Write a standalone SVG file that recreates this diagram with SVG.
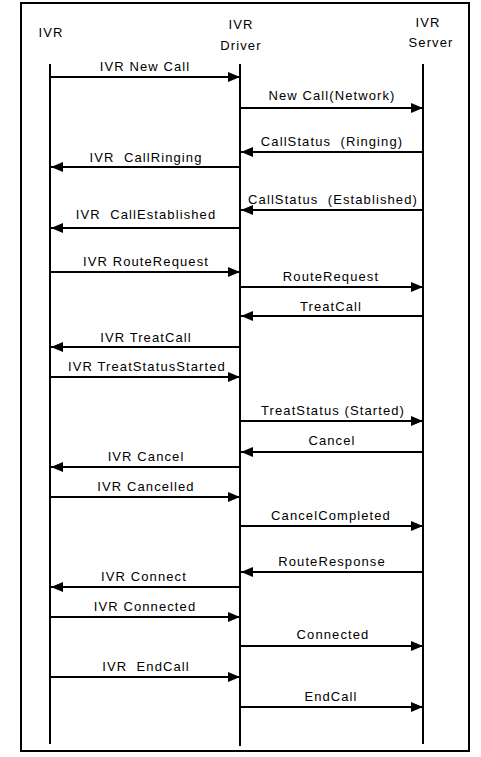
<svg xmlns="http://www.w3.org/2000/svg" width="481" height="757" viewBox="0 0 481 757">
<style>
text{font-family:"Liberation Sans",Arial,sans-serif;font-size:13px;letter-spacing:1.1px;fill:#000;text-anchor:middle}
.life{stroke:#000;stroke-width:2;fill:none}
.msg{stroke:#000;stroke-width:2;fill:none;marker-end:url(#ah)}
</style>
<defs>
<marker id="ah" markerUnits="userSpaceOnUse" markerWidth="13" markerHeight="11" refX="12" refY="5" orient="auto">
<path d="M0,0 L12,5 L0,10 z" fill="#000"/>
</marker>
</defs>
<rect x="0" y="0" width="481" height="757" fill="#fff"/>
<rect x="21" y="3" width="448" height="748" fill="none" stroke="#000" stroke-width="2"/>
<g id="ivr">
<text x="51" y="37">IVR</text>
<line class="life" x1="50" y1="64" x2="50" y2="744"/>
</g>
<g id="driver">
<text x="241" y="29">IVR</text>
<text x="241" y="50">Driver</text>
<line class="life" x1="240" y1="64" x2="240" y2="746"/>
</g>
<g id="server">
<text x="428" y="27">IVR</text>
<text x="431" y="47">Server</text>
<line class="life" x1="423" y1="64" x2="423" y2="744"/>
</g>
<g id="connectors">
<line class="msg" x1="50" y1="77" x2="240" y2="77"/><text x="145" y="71">IVR New Call</text>
<line class="msg" x1="240" y1="108" x2="423" y2="108"/><text x="332" y="100">New Call(Network)</text>
<line class="msg" x1="423" y1="152" x2="241" y2="152"/><text x="332" y="146" xml:space="preserve">CallStatus  (Ringing)</text>
<line class="msg" x1="240" y1="167" x2="51" y2="167"/><text x="146" y="162" xml:space="preserve">IVR  CallRinging</text>
<line class="msg" x1="423" y1="210" x2="241" y2="210"/><text x="333" y="204" xml:space="preserve">CallStatus  (Established)</text>
<line class="msg" x1="240" y1="228" x2="51" y2="228"/><text x="146" y="219" xml:space="preserve">IVR  CallEstablished</text>
<line class="msg" x1="50" y1="272" x2="240" y2="272"/><text x="146" y="266">IVR RouteRequest</text>
<line class="msg" x1="240" y1="287" x2="423" y2="287"/><text x="331" y="281">RouteRequest</text>
<line class="msg" x1="423" y1="316" x2="241" y2="316"/><text x="331" y="311">TreatCall</text>
<line class="msg" x1="240" y1="347" x2="51" y2="347"/><text x="146" y="342">IVR TreatCall</text>
<line class="msg" x1="50" y1="377" x2="240" y2="377"/><text x="147" y="371">IVR TreatStatusStarted</text>
<line class="msg" x1="240" y1="421" x2="423" y2="421"/><text x="333" y="415">TreatStatus (Started)</text>
<line class="msg" x1="423" y1="452" x2="241" y2="452"/><text x="332" y="445">Cancel</text>
<line class="msg" x1="240" y1="467" x2="51" y2="467"/><text x="146" y="461">IVR Cancel</text>
<line class="msg" x1="50" y1="497" x2="240" y2="497"/><text x="146" y="491">IVR Cancelled</text>
<line class="msg" x1="240" y1="526" x2="423" y2="526"/><text x="331" y="520">CancelCompleted</text>
<line class="msg" x1="423" y1="572" x2="241" y2="572"/><text x="332" y="566">RouteResponse</text>
<line class="msg" x1="240" y1="587" x2="51" y2="587"/><text x="144" y="581">IVR Connect</text>
<line class="msg" x1="50" y1="617" x2="240" y2="617"/><text x="145" y="611">IVR Connected</text>
<line class="msg" x1="240" y1="646" x2="423" y2="646"/><text x="333" y="639">Connected</text>
<line class="msg" x1="50" y1="677" x2="240" y2="677"/><text x="146" y="671" xml:space="preserve">IVR  EndCall</text>
<line class="msg" x1="240" y1="707" x2="423" y2="707"/><text x="331" y="701">EndCall</text>
</g>
</svg>
